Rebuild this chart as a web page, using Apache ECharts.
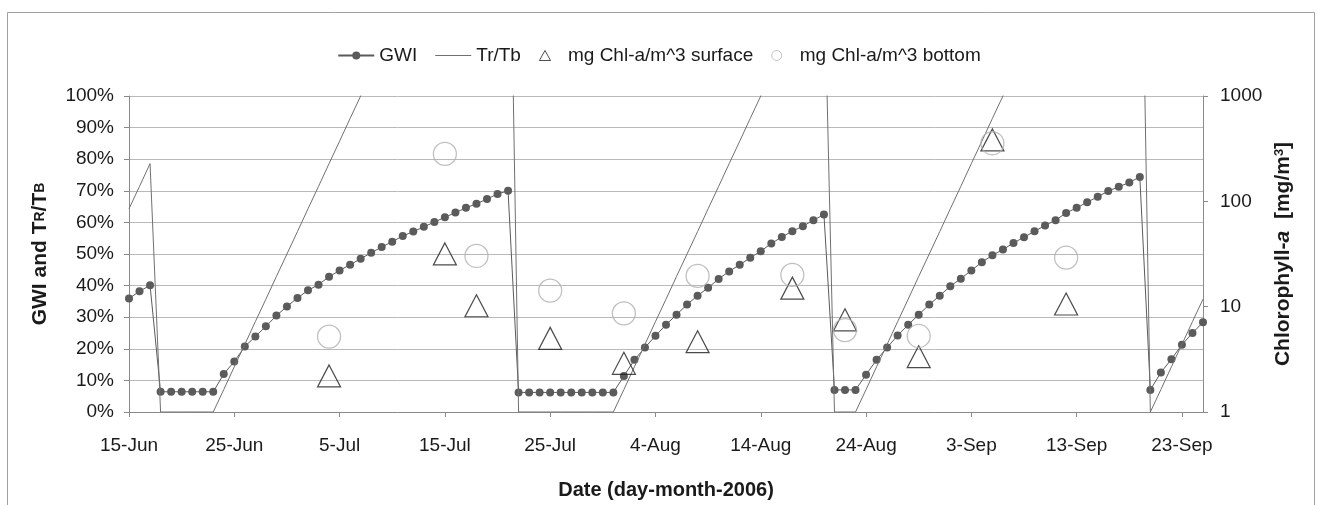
<!DOCTYPE html>
<html>
<head>
<meta charset="utf-8">
<script src="https://cdn.jsdelivr.net/npm/echarts@6/dist/echarts.min.js"></script>
<style>
html,body{margin:0;padding:0;background:#fff;}
#chart{width:1318px;height:505px;}
</style>
</head>
<body>
<div id="chart"></div>
<script>
// x axis: days after 15-Jun-2006
const dayTickValues = [0, 10, 20, 30, 40, 50, 60, 70, 80, 90, 100];
const dayTickLabels = ['15-Jun', '25-Jun', '5-Jul', '15-Jul', '25-Jul', '4-Aug', '14-Aug', '24-Aug', '3-Sep', '13-Sep', '23-Sep'];
const firstDay = 0;

// GWI (%) one value per day, day 0 .. day 102
const gwi = [
  35.9, 38.2, 40.1,
  6.4, 6.4, 6.4, 6.4, 6.4, 6.4,
  12.0, 16.0, 20.7, 23.9, 27.1, 30.5, 33.4, 36.1, 38.5, 40.3,
  42.8, 44.8, 46.6, 48.5, 50.4, 52.2, 53.9, 55.7, 57.1, 58.6,
  60.1, 61.6, 63.1, 64.6, 65.9, 67.4, 69.0, 70.0,
  6.2, 6.2, 6.2, 6.2, 6.2, 6.2, 6.2, 6.2, 6.2, 6.2,
  11.4, 16.5, 20.4, 24.1, 27.6, 30.8, 34.0, 36.8, 39.3, 42.1,
  44.5, 46.6, 48.8, 50.9, 53.3, 55.4, 57.2, 58.8, 60.7, 62.5,
  7.0, 7.0, 7.0,
  11.8, 16.5, 20.4, 24.2, 27.6, 30.8, 34.0, 36.8, 39.8, 42.2,
  44.8, 47.4, 49.6, 51.4, 53.5, 55.3, 57.2, 59.0, 60.7, 63.0,
  64.6, 66.4, 68.1, 69.9, 71.3, 72.6, 74.4,
  7.0, 12.5, 16.7, 21.3, 25.0, 28.4
];

// Tr/Tb (%) one value per day, day 0 .. day 102 (values above 100% run off the top of the plot)
const trtb = [
  64.3, 71.4, 78.6,
  0, 0, 0, 0, 0, 0,
  7.1, 14.3, 21.4, 28.6, 35.7, 42.9, 50.0, 57.1, 64.3, 71.4,
  78.6, 85.7, 92.9, 100.0, 107.1, 114.3, 121.4, 128.6, 135.7, 142.9,
  150.0, 157.1, 164.3, 171.4, 178.6, 185.7, 192.9, 200.0,
  0, 0, 0, 0, 0, 0, 0, 0, 0, 0,
  7.1, 14.3, 21.4, 28.6, 35.7, 42.9, 50.0, 57.1, 64.3, 71.4,
  78.6, 85.7, 92.9, 100.0, 107.1, 114.3, 121.4, 128.6, 135.7, 142.9,
  0, 0, 0,
  7.1, 14.3, 21.4, 28.6, 35.7, 42.9, 50.0, 57.1, 64.3, 71.4,
  78.6, 85.7, 92.9, 100.0, 107.1, 114.3, 121.4, 128.6, 135.7, 142.9,
  150.0, 157.1, 164.3, 171.4, 178.6, 185.7, 192.9,
  0, 7.1, 14.3, 21.4, 28.6, 35.7
];

// Chlorophyll-a samples (mg/m^3), sample day after 15-Jun
const chlDays    = [19, 30, 33, 40, 47, 54, 63, 68, 75, 82, 89];
const chlSurface = [2.2, 31.7, 10.2, 5.0, 2.9, 4.65, 15.0, 7.5, 3.35, 383, 10.6];
const chlBottom  = [5.2, 282, 30.3, 14.2, 8.65, 19.6, 20.0, 6.0, 5.27, 356, 29.2];

const leftTicks = [0, 10, 20, 30, 40, 50, 60, 70, 80, 90, 100];
const rightTicks = [1, 10, 100, 1000];

const FONT = '"Liberation Sans", Arial, sans-serif';
const TXT = '#1a1a1a';

const chart = echarts.init(document.getElementById('chart'), null, {renderer: 'canvas'});

const option = {
  backgroundColor: '#ffffff',
  animation: false,
  textStyle: {fontFamily: FONT, color: TXT},
  graphic: [{
    type: 'rect',
    shape: {x: 7.5, y: 12.5, width: 1307, height: 520},
    style: {fill: 'none', stroke: '#a0a0a0', lineWidth: 1},
    silent: true, z: -1
  }],
  legend: {
    top: 41,
    left: 'center',
    itemGap: 18,
    itemWidth: 36,
    itemHeight: 10,
    symbolKeepAspect: true,
    textStyle: {fontFamily: FONT, fontSize: 19, color: TXT},
    data: [
      {name: 'GWI'},
      {name: 'Tr/Tb', icon: 'path://M0,0 L36,0 L36,1 L0,1 Z', itemStyle: {color: '#707070'}},
      {name: 'mg Chl-a/m^3 surface', icon: 'path://M5,0 L10,9 L0,9 Z', itemStyle: {color: 'rgba(0,0,0,0)', borderColor: '#222', borderWidth: 1}},
      {name: 'mg Chl-a/m^3 bottom', icon: 'circle', itemStyle: {color: 'rgba(0,0,0,0)', borderColor: '#b5b5b5', borderWidth: 1}}
    ]
  },
  grid: {left: 129, top: 96, width: 1074, height: 316, containLabel: false},
  xAxis: {
    type: 'value',
    min: 0,
    max: 102,
    interval: 10,
    name: 'Date (day-month-2006)',
    nameLocation: 'middle',
    nameGap: 68,
    nameTextStyle: {fontFamily: FONT, fontSize: 20, fontWeight: 'bold', color: TXT},
    axisLine: {show: true, onZero: false, lineStyle: {color: '#8a8a8a', width: 1}},
    axisTick: {show: true, inside: false, length: 5, customValues: dayTickValues, lineStyle: {color: '#8a8a8a'}},
    axisLabel: {
      customValues: dayTickValues,
      margin: 24,
      fontFamily: FONT, fontSize: 19, color: TXT,
      formatter: function (v) {
        const i = dayTickValues.indexOf(Math.round(v));
        return i >= 0 ? dayTickLabels[i] : '';
      }
    },
    splitLine: {show: false}
  },
  yAxis: [{
    type: 'value',
    position: 'left',
    min: 0,
    max: 100,
    interval: 10,
    name: 'GWI and T{s|R}/T{s|B}',
    nameLocation: 'middle',
    nameRotate: 90,
    nameGap: 78,
    nameTextStyle: {
      fontFamily: FONT, fontSize: 21, fontWeight: 'bold', color: TXT,
      rich: {s: {fontFamily: FONT, fontSize: 14, fontWeight: 'bold', color: TXT}}
    },
    axisLine: {show: true, lineStyle: {color: '#8a8a8a', width: 1}},
    axisTick: {show: true, inside: false, length: 5, lineStyle: {color: '#8a8a8a'}},
    axisLabel: {
      margin: 15, fontFamily: FONT, fontSize: 19, color: TXT,
      formatter: function (v) { return leftTicks.indexOf(v) >= 0 ? v + '%' : ''; }
    },
    splitLine: {show: true, lineStyle: {color: '#b9b9b9', width: 1}}
  }, {
    type: 'log',
    logBase: 10,
    position: 'right',
    min: 1,
    max: 1000,
    name: 'Chlorophyll-{i|a}  [mg/m{sup|3}]',
    nameLocation: 'middle',
    nameRotate: 90,
    nameGap: 70,
    nameTextStyle: {
      fontFamily: FONT, fontSize: 21, fontWeight: 'bold', color: TXT,
      rich: {
        i: {fontFamily: FONT, fontSize: 21, fontWeight: 'bold', fontStyle: 'italic', color: TXT},
        sup: {fontFamily: FONT, fontSize: 13, fontWeight: 'bold', color: TXT, verticalAlign: 'top'}
      }
    },
    axisLine: {show: true, lineStyle: {color: '#8a8a8a', width: 1}},
    axisTick: {show: true, inside: false, length: 5, lineStyle: {color: '#8a8a8a'}},
    axisLabel: {
      margin: 17, fontFamily: FONT, fontSize: 19, color: TXT,
      formatter: function (v) { const i = rightTicks.indexOf(Math.round(v)); return i >= 0 ? String(rightTicks[i]) : ''; }
    },
    splitLine: {show: false},
    minorTick: {show: false}
  }],
  series: [{
    name: 'GWI',
    type: 'line',
    data: gwi.map(function (v, i) { return [firstDay + i, v]; }),
    symbol: 'circle',
    symbolSize: 8,
    showSymbol: true,
    itemStyle: {color: '#5b5b5b'},
    lineStyle: {color: '#5b5b5b', width: 1},
    clip: true,
    z: 3
  }, {
    name: 'Tr/Tb',
    type: 'line',
    data: trtb.map(function (v, i) { return [firstDay + i, v]; }),
    symbol: 'none',
    itemStyle: {color: '#707070'},
    lineStyle: {color: '#707070', width: 1},
    clip: true,
    z: 4
  }, {
    name: 'mg Chl-a/m^3 surface',
    type: 'scatter',
    yAxisIndex: 1,
    data: chlDays.map(function (d, i) { return [d, chlSurface[i]]; }),
    symbol: 'triangle',
    symbolSize: [23, 22],
    itemStyle: {color: 'rgba(0,0,0,0)', borderColor: '#1e1e1e', borderWidth: 1.2},
    z: 5
  }, {
    name: 'mg Chl-a/m^3 bottom',
    type: 'scatter',
    yAxisIndex: 1,
    data: chlDays.map(function (d, i) { return [d, chlBottom[i]]; }),
    symbol: 'circle',
    symbolSize: 23,
    itemStyle: {color: 'rgba(0,0,0,0)', borderColor: '#b0b0b0', borderWidth: 1.3},
    z: 6
  }]
};

chart.setOption(option);
</script>
</body>
</html>
